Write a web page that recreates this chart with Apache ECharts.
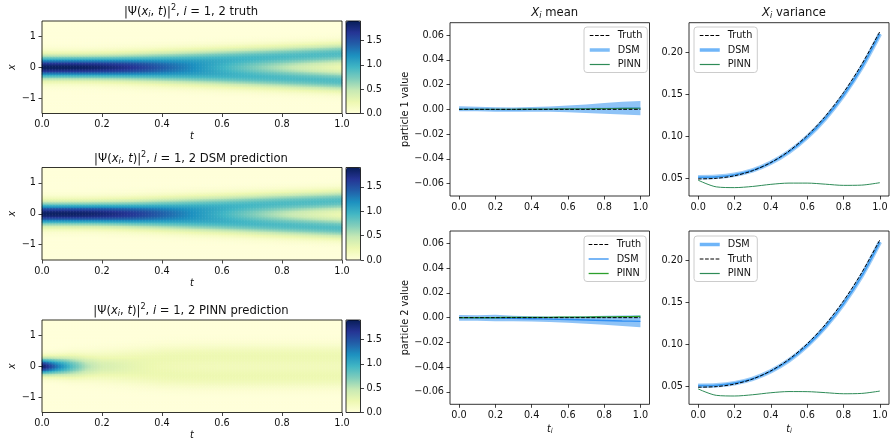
<!DOCTYPE html>
<html>
<head>
<meta charset="utf-8">
<script src="https://cdn.jsdelivr.net/npm/echarts@6/dist/echarts.min.js"></script>
<style>
  html, body { margin: 0; padding: 0; background: #fff; }
  #chart { width: 891px; height: 442px; }
</style>
</head>
<body>
<div id="chart"></div>
<script>
// ---- heatmaps: ridge profile at these times ----
const knotT = [0, 0.05, 0.1, 0.15, 0.2, 0.3, 0.4, 0.5, 0.6, 0.7, 0.8, 0.9, 1.0]

const truthUpper = [0, 0, 0.02, 0.04, 0.065, 0.115, 0.17, 0.215, 0.26, 0.305, 0.35, 0.395, 0.44]
const truthLower = [0, 0, -0.02, -0.04, -0.065, -0.115, -0.17, -0.215, -0.26, -0.305, -0.35, -0.395, -0.44]
const truthWidth = [0.235, 0.235, 0.235, 0.235, 0.235, 0.235, 0.232, 0.23, 0.228, 0.226, 0.224, 0.222, 0.22]
const truthPeak = [1.88, 1.88, 1.88, 1.88, 1.88, 1.88, 1.88, 1.88, 1.86, 1.84, 1.82, 1.8, 1.79]

const dsmUpper = [0, 0, 0.02, 0.04, 0.065, 0.11, 0.165, 0.21, 0.25, 0.295, 0.34, 0.38, 0.42]
const dsmLower = [0, 0, -0.02, -0.04, -0.065, -0.12, -0.175, -0.225, -0.27, -0.32, -0.37, -0.415, -0.46]
const dsmWidth = [0.235, 0.235, 0.235, 0.235, 0.235, 0.235, 0.232, 0.23, 0.228, 0.226, 0.224, 0.222, 0.22]
const dsmPeak = [1.86, 1.86, 1.86, 1.86, 1.86, 1.86, 1.86, 1.86, 1.85, 1.83, 1.81, 1.79, 1.78]

const pinnUpper = [0, 0, 0.02, 0.06, 0.12, 0.22, 0.3, 0.33, 0.34, 0.34, 0.34, 0.34, 0.34]
const pinnLower = [0, 0, -0.02, -0.06, -0.12, -0.22, -0.3, -0.33, -0.34, -0.34, -0.34, -0.34, -0.34]
const pinnWidth = [0.17, 0.19, 0.22, 0.24, 0.25, 0.25, 0.25, 0.25, 0.25, 0.25, 0.25, 0.25, 0.25]
const pinnPeak = [1.9, 1.32, 0.88, 0.56, 0.43, 0.42, 0.44, 0.45, 0.45, 0.45, 0.45, 0.45, 0.45]

const cbarTicks = [0, 0.5, 1.0, 1.5]
const cbarMax = 1.9

// ---- right panels ----
const tVals = [0, 0.1, 0.2, 0.3, 0.4, 0.5, 0.6, 0.7, 0.8, 0.9, 1.0]
const tTicks = [0, 0.2, 0.4, 0.6, 0.8, 1.0]
const meanTicks = [-0.06, -0.04, -0.02, 0, 0.02, 0.04, 0.06]
const varTicks = [0.05, 0.1, 0.15, 0.2]

const meanTruth = [0, 0, 0, 0, 0, 0, 0, 0, 0, 0, 0]
const mean1Dsm = [0.0005, 0.0003, -0.0001, -0.0003, 0.0, 0.0002, 0.0004, 0.0005, 0.0008, 0.001, 0.0011]
const mean1Lower = [-0.0015, -0.0016, -0.0019, -0.002, -0.0019, -0.002, -0.0023, -0.0029, -0.0036, -0.0042, -0.0047]
const mean1Upper = [0.0025, 0.0022, 0.0016, 0.0014, 0.0018, 0.0023, 0.0031, 0.004, 0.0051, 0.0061, 0.0068]
const mean1Pinn = [0.0, 0.0001, 0.0001, 0.0001, 0.0002, 0.0003, 0.0004, 0.0005, 0.0006, 0.0008, 0.0009]

const mean2Dsm = [-0.0002, -0.0003, -0.0004, -0.0006, -0.0009, -0.0012, -0.0015, -0.0019, -0.0023, -0.0027, -0.003]
const mean2Lower = [-0.0025, -0.0026, -0.0029, -0.003, -0.0032, -0.0035, -0.0041, -0.0049, -0.0058, -0.0068, -0.0077]
const mean2Upper = [0.0021, 0.002, 0.0023, 0.0016, 0.0012, 0.001, 0.001, 0.0012, 0.0015, 0.0017, 0.0019]
const mean2Pinn = [0.0, 0.0001, 0.0001, 0.0002, 0.0002, 0.0003, 0.0004, 0.0005, 0.0006, 0.0008, 0.001]

const varTruth = [0.049, 0.0497, 0.0527, 0.0588, 0.0685, 0.0823, 0.1007, 0.1238, 0.152, 0.1856, 0.225]
const var1Dsm = [0.051, 0.0515, 0.054, 0.0592, 0.0682, 0.0812, 0.0988, 0.1212, 0.1488, 0.182, 0.222]
const var1Pinn = [0.0475, 0.0395, 0.0386, 0.04, 0.0425, 0.044, 0.044, 0.0427, 0.0413, 0.0416, 0.0445]
const var2Dsm = [0.0508, 0.0513, 0.0538, 0.059, 0.068, 0.081, 0.0986, 0.121, 0.1486, 0.1818, 0.2222]
const var2Pinn = [0.047, 0.0393, 0.0385, 0.04, 0.0424, 0.0438, 0.0437, 0.0425, 0.0412, 0.0416, 0.0444]

// ---- look ----
const FONT = 'DejaVu Sans'
const INK = '#111'
const FS = 9.7
const TS = 11.6
const YLGNBU = ['#ffffd9', '#edf8b1', '#c7e9b4', '#7fcdbb', '#41b6c4', '#1d91c0', '#225ea8', '#253494', '#081d58']
const BAND = '#8ec3f7'
const TRUTH_DASH = [3.7, 1.6]

const heatTops = [21, 167.5, 320]
const HEAT_LEFT = 42, HEAT_W = 300, HEAT_H = 92.5
const CBAR_LEFT = 346, CBAR_W = 14.5
const lineBoxes = [
  { left: 450, top: 22.7, width: 199.5 },  // mean, particle 1
  { left: 689, top: 22.7, width: 200 },    // variance, particle 1
  { left: 450, top: 231, width: 199.5 },   // mean, particle 2
  { left: 689, top: 231, width: 200 },     // variance, particle 2
]
const LINE_H = 173.3

const nT = 200, nX = 62

function lerp(arr, t) {
  for (let k = 0; k < knotT.length - 1; k++) {
    if (t <= knotT[k + 1]) {
      const f = (t - knotT[k]) / (knotT[k + 1] - knotT[k])
      return arr[k] + f * (arr[k + 1] - arr[k])
    }
  }
  return arr[arr.length - 1]
}

function buildField(upper, lower, width, peak) {
  const cells = []
  for (let i = 0; i < nT; i++) {
    const t = (i + 0.5) / nT
    const cu = lerp(upper, t), cl = lerp(lower, t), s = lerp(width, t), h = lerp(peak, t)
    for (let j = 0; j < nX; j++) {
      const x = -1.5 + (j + 0.5) * 3 / nX
      const v = h / 2 * (Math.exp(-((x - cu) ** 2) / (2 * s * s)) + Math.exp(-((x - cl) ** 2) / (2 * s * s)))
      cells.push([i, j, v])
    }
  }
  return cells
}

function fmt(v, d) {
  const s = Math.abs(v).toFixed(d)
  return v < -1e-12 ? '\u2212' + s : s
}

function mathRich(size) {
  const base = { fontFamily: FONT, color: INK, fontWeight: 'normal' }
  return {
    n: Object.assign({ fontSize: size }, base),
    it: Object.assign({ fontSize: size, fontStyle: 'italic' }, base),
    sub: Object.assign({ fontSize: size * 0.7, fontStyle: 'italic', padding: [size * 0.5, 0, 0, 0] }, base),
    sup: Object.assign({ fontSize: size * 0.7, padding: [0, 0, size * 0.7, 0] }, base),
  }
}

const labelStyle = { fontFamily: FONT, fontSize: FS, color: INK }
const tickStyle = { length: 3.5, lineStyle: { color: INK, width: 0.8 } }
const noLine = { show: false, onZero: false }

function pairs(xs, ys) { return xs.map((x, i) => [x, ys[i]]) }

const grids = [], xAxes = [], yAxes = [], series = [], visualMaps = [], legends = [], titles = []

function frame(box) {
  return Object.assign({ show: true, z: 10, backgroundColor: 'transparent', borderColor: '#000',
    borderWidth: 0.8, outerBoundsMode: 'none', containLabel: false }, box)
}

// ---- left column: heatmaps + colorbars ----
const heatLabels = ['truth', 'DSM prediction', 'PINN prediction']
const fields = [
  buildField(truthUpper, truthLower, truthWidth, truthPeak),
  buildField(dsmUpper, dsmLower, dsmWidth, dsmPeak),
  buildField(pinnUpper, pinnLower, pinnWidth, pinnPeak),
]
const catT = Array.from({ length: nT }, (_, i) => i)
const catX = Array.from({ length: nX }, (_, j) => j)

heatTops.forEach((top, k) => {
  grids.push(frame({ left: HEAT_LEFT, top, width: HEAT_W, height: HEAT_H }))
  // hidden category axes carry the cells, visible value axes carry the ticks
  xAxes.push({ type: 'category', gridIndex: k, data: catT, show: false, position: 'bottom' })
  xAxes.push({ type: 'value', gridIndex: k, min: 0, max: 1, interval: 0.2, position: 'bottom',
    axisLine: noLine, axisTick: tickStyle, splitLine: { show: false },
    axisLabel: Object.assign({ margin: 6, formatter: v => fmt(v, 1), showMinLabel: true, showMaxLabel: true }, labelStyle),
    name: '{it|t}', nameLocation: 'middle', nameGap: 18, nameTextStyle: { rich: mathRich(FS) } })
  yAxes.push({ type: 'category', gridIndex: k, data: catX, show: false, position: 'left' })
  yAxes.push({ type: 'value', gridIndex: k, min: -1.5, max: 1.5, position: 'left',
    axisLine: noLine, splitLine: { show: false },
    axisTick: Object.assign({ customValues: [-1, 0, 1] }, tickStyle),
    axisLabel: Object.assign({ margin: 6, customValues: [-1, 0, 1], formatter: v => fmt(v, 0) }, labelStyle),
    name: '{it|x}', nameLocation: 'middle', nameGap: 23, nameRotate: 90, nameTextStyle: { rich: mathRich(FS) } })
  series.push({ type: 'heatmap', xAxisIndex: 2 * k, yAxisIndex: 2 * k, data: fields[k],
    progressive: 0, silent: true, emphasis: { disabled: true } })
  visualMaps.push({ type: 'continuous', seriesIndex: k, min: 0, max: cbarMax, show: true, calculable: false,
    hoverLink: false, left: CBAR_LEFT, top, itemWidth: CBAR_W, itemHeight: HEAT_H, padding: 0, text: null,
    inRange: { color: YLGNBU } })
  titles.push({ left: HEAT_LEFT + HEAT_W / 2 - 6, top: top - 22, textAlign: 'center',
    text: '{n||Ψ(}{it|x}{sub|i}{n|, }{it|t}{n|)|}{sup|2}{n|, }{it|i}{n| = 1, 2 ' + heatLabels[k] + '}',
    textStyle: { fontWeight: 'normal', rich: mathRich(TS) } })
})

heatTops.forEach((top, k) => {
  const g = 3 + k
  grids.push(frame({ left: CBAR_LEFT, top, width: CBAR_W, height: HEAT_H }))
  xAxes.push({ type: 'value', gridIndex: g, min: 0, max: 1, show: false })
  yAxes.push({ type: 'value', gridIndex: g, min: 0, max: cbarMax, position: 'right',
    axisLine: noLine, splitLine: { show: false },
    axisTick: Object.assign({ customValues: cbarTicks }, tickStyle),
    axisLabel: Object.assign({ margin: 6, customValues: cbarTicks, formatter: v => fmt(v, 1) }, labelStyle) })
})

// ---- right column: mean / variance ----
lineBoxes.forEach((b, c) => {
  const g = 6 + c
  const isMean = c % 2 === 0
  const bottomRow = c >= 2
  grids.push(frame({ left: b.left, top: b.top, width: b.width, height: LINE_H }))
  xAxes.push({ type: 'value', gridIndex: g, min: -0.05, max: 1.05, position: 'bottom',
    axisLine: noLine, splitLine: { show: false },
    axisTick: Object.assign({ customValues: tTicks }, tickStyle),
    axisLabel: Object.assign({ margin: 6, customValues: tTicks, formatter: v => fmt(v, 1) }, labelStyle),
    name: bottomRow ? '{it|t}{sub|i}' : '', nameLocation: 'middle', nameGap: 19, nameTextStyle: { rich: mathRich(FS) } })
  const yTicks = isMean ? meanTicks : varTicks
  yAxes.push({ type: 'value', gridIndex: g, min: isMean ? -0.07 : 0.0286, max: isMean ? 0.07 : 0.2354, position: 'left',
    axisLine: noLine, splitLine: { show: false },
    axisTick: Object.assign({ customValues: yTicks }, tickStyle),
    axisLabel: Object.assign({ margin: 6, customValues: yTicks, formatter: v => fmt(v, 2) }, labelStyle),
    name: isMean ? 'particle ' + (bottomRow ? 2 : 1) + ' value' : '', nameLocation: 'middle', nameGap: 40, nameRotate: 90,
    nameTextStyle: labelStyle })
  if (!bottomRow) {
    titles.push({ left: b.left + b.width / 2, top: 1, textAlign: 'center',
      text: '{it|X}{sub|i}{n| ' + (isMean ? 'mean' : 'variance') + '}',
      textStyle: { fontWeight: 'normal', rich: mathRich(TS) } })
  }
})

const ax = c => ({ xAxisIndex: 9 + c, yAxisIndex: 9 + c })
function line(name, c, ys, style, z) {
  return Object.assign({ type: 'line', name, data: pairs(tVals, ys), symbol: 'none', smooth: 0.3,
    silent: true, lineStyle: style, z: z || 3 }, ax(c))
}
// spread band between lower and upper edge, placed through the axes
function band(c, lo, hi) {
  return Object.assign({
    type: 'custom', silent: true, z: 2,
    data: tVals.map((t, i) => [t, lo[i], hi[i]]),
    encode: { x: 0, y: [1, 2] },
    renderItem: (params, api) => {
      if (params.dataIndex !== 0) return null
      const upper = tVals.map((t, i) => api.coord([t, hi[i]]))
      const lower = tVals.map((t, i) => api.coord([t, lo[i]])).reverse()
      return { type: 'polygon', shape: { points: upper.concat(lower) }, style: { fill: BAND } }
    },
  }, ax(c))
}

// mean, particle 1
series.push(band(0, mean1Lower, mean1Upper))
series.push(line('DSM#0', 0, mean1Dsm, { color: '#5aa8f4', width: 1.4 }))
series.push(line('PINN#0', 0, mean1Pinn, { color: '#2e8b57', width: 1.2 }, 4))
series.push(line('Truth#0', 0, meanTruth, { color: '#000', width: 1, type: TRUTH_DASH }, 5))
// variance, particle 1
series.push(line('DSM#1', 1, var1Dsm, { color: '#9fcdf8', width: 4.5 }))
series.push(line('', 1, var1Dsm, { color: '#3b9bf2', width: 1.7 }, 4))
series.push(line('PINN#1', 1, var1Pinn, { color: '#2e8b57', width: 1 }, 4))
series.push(line('Truth#1', 1, varTruth, { color: '#000', width: 1, type: TRUTH_DASH }, 5))
// mean, particle 2
series.push(band(2, mean2Lower, mean2Upper))
series.push(line('DSM#2', 2, mean2Dsm, { color: '#2f8ef2', width: 1.3 }))
series.push(line('PINN#2', 2, mean2Pinn, { color: '#2ca02c', width: 1.3 }, 4))
series.push(line('Truth#2', 2, meanTruth, { color: '#000', width: 1, type: TRUTH_DASH }, 5))
// variance, particle 2
series.push(line('DSM#3', 3, var2Dsm, { color: '#9fcdf8', width: 4.5 }))
series.push(line('', 3, var2Dsm, { color: '#3b9bf2', width: 1.7 }, 4))
series.push(line('PINN#3', 3, var2Pinn, { color: '#2e8b57', width: 1 }, 4))
series.push(line('Truth#3', 3, varTruth, { color: '#000', width: 1, type: TRUTH_DASH }, 5))

function legendAt(left, top, items) {
  return {
    left, top, orient: 'vertical', selectedMode: false, data: items,
    formatter: name => name.split('#')[0],
    itemWidth: 20, itemHeight: 10, itemGap: 4.5,
    itemStyle: { opacity: 0 },
    textStyle: { fontFamily: FONT, fontSize: FS, color: INK, padding: [0, 0, 0, 3] },
    backgroundColor: 'rgba(255,255,255,0.85)', borderColor: '#cccccc', borderWidth: 1, borderRadius: 3,
    padding: [3.5, 5, 3, 4],
  }
}
const dashItem = n => ({ name: n, lineStyle: { color: '#000', width: 1, type: TRUTH_DASH } })
legends.push(legendAt(584, 27, [dashItem('Truth#0'),
  { name: 'DSM#0', lineStyle: { color: '#7dbcf7', width: 3.5 } },
  { name: 'PINN#0', lineStyle: { color: '#2e8b57', width: 1.2 } }]))
legends.push(legendAt(694, 27, [dashItem('Truth#1'),
  { name: 'DSM#1', lineStyle: { color: '#6fb5f8', width: 3.5 } },
  { name: 'PINN#1', lineStyle: { color: '#2e8b57', width: 1.2 } }]))
legends.push(legendAt(584, 236, [dashItem('Truth#2'),
  { name: 'DSM#2', lineStyle: { color: '#2f8ef2', width: 1.3 } },
  { name: 'PINN#2', lineStyle: { color: '#2ca02c', width: 1.3 } }]))
legends.push(legendAt(694, 236, [
  { name: 'DSM#3', lineStyle: { color: '#6fb5f8', width: 3.5 } },
  dashItem('Truth#3'),
  { name: 'PINN#3', lineStyle: { color: '#2e8b57', width: 1.2 } }]))

const chart = echarts.init(document.getElementById('chart'))
chart.setOption({
  animation: false,
  textStyle: { fontFamily: FONT, color: INK },
  title: titles,
  grid: grids,
  xAxis: xAxes,
  yAxis: yAxes,
  visualMap: visualMaps,
  legend: legends,
  series,
})
</script>
</body>
</html>
